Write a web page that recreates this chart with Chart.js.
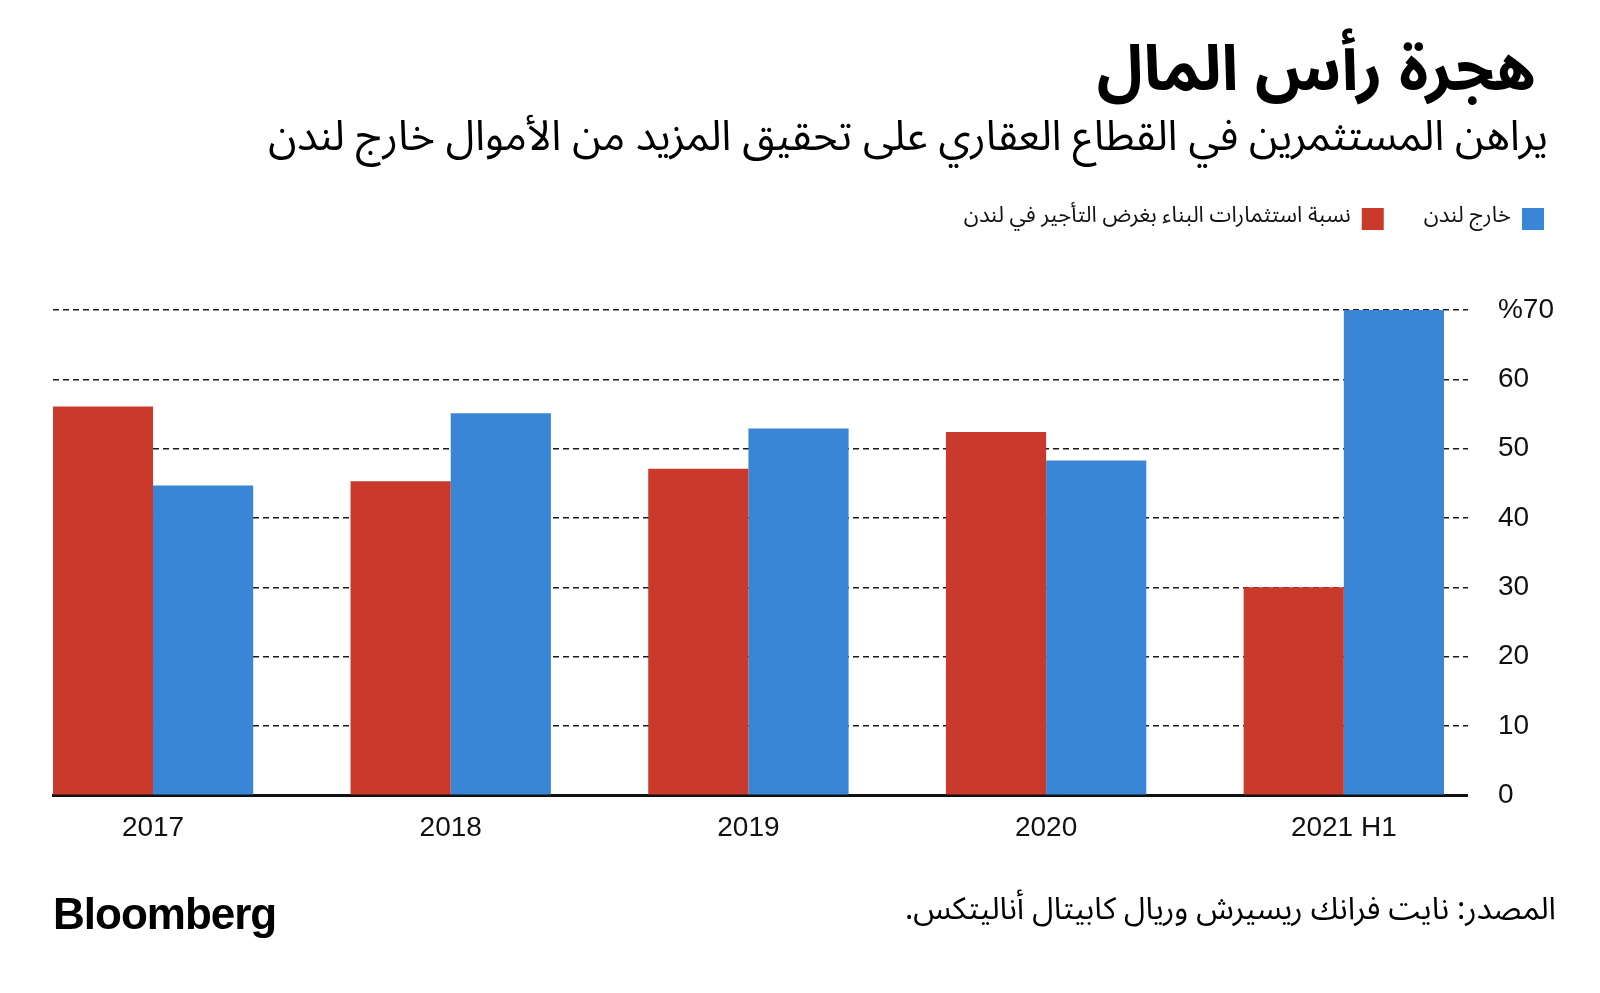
<!DOCTYPE html>
<html lang="ar">
<head>
<meta charset="utf-8">
<title>هجرة رأس المال</title>
<script src="https://cdn.jsdelivr.net/npm/chart.js@4.4.1/dist/chart.umd.min.js"></script>
<style>
  html, body { margin: 0; padding: 0; background: #fff; }
  #wrap { position: relative; width: 1600px; height: 993px; overflow: hidden; }
  #chart { position: absolute; left: 0; top: 0; direction: ltr; }
  .ar { position: absolute; direction: rtl; font-family: "Noto Sans Arabic", "DejaVu Sans", sans-serif; color: #000; white-space: nowrap; }
  #title { right: 64px; top: 38px; font-size: 63px; font-weight: bold; line-height: 1; }
  #subtitle { right: 52px; top: 114px; font-size: 42px; line-height: 1.1; }
  #source { right: 44px; top: 891px; font-size: 31px; line-height: 1.2; }
  #logo { position: absolute; left: 53px; top: 890px; font-family: "Liberation Sans", Arial, sans-serif; font-weight: bold; font-size: 44px; letter-spacing: -1px; line-height: 1.1; }
</style>
</head>
<body>
<div id="wrap">
  <canvas id="chart" width="1600" height="993"></canvas>
  <div id="title" class="ar">هجرة رأس المال</div>
  <div id="subtitle" class="ar">يراهن المستثمرين في القطاع العقاري على تحقيق المزيد من الأموال خارج لندن</div>
  <div id="source" class="ar">المصدر: نايت فرانك ريسيرش وريال كابيتال أناليتكس.</div>
  <div id="logo">Bloomberg</div>
</div>
<script>
// datos
var categorias = ['2017', '2018', '2019', '2020', '2021 H1'];
var enLondres = [56.1, 45.3, 47.1, 52.4, 30.0];
var fueraLondres = [44.7, 55.1, 52.9, 48.3, 70.0];
var ticksY = [0, 10, 20, 30, 40, 50, 60, 70];

var fuenteAr = '"Noto Sans Arabic", "DejaVu Sans", sans-serif';
var fuenteNum = '"Liberation Sans", Arial, sans-serif';

function puntos(serie) {
    return serie.map(function(v, i) { return { x: i, y: v }; });
}

// deja espacio debajo de la leyenda
var espacioLeyenda = {
    id: 'espacioLeyenda',
    beforeInit: function(chart) {
        var fitOriginal = chart.legend.fit;
        chart.legend.fit = function() {
            fitOriginal.bind(chart.legend)();
            this.height += 70;
        };
    }
};

var canvas = document.getElementById('chart').getContext('2d');
window.barras = new Chart(canvas, {
    type: 'bar',
    data: {
        datasets: [{
                label: 'نسبة استثمارات البناء بغرض التأجير في لندن',
                data: puntos(enLondres),
                backgroundColor: '#c9392c'
            }, {
                label: 'خارج لندن',
                data: puntos(fueraLondres),
                backgroundColor: '#3a86d6'
            }]
    },
    plugins: [espacioLeyenda],
    options: {
        responsive: false,
        animation: false,
        layout: {
            padding: { left: 53, right: 16, top: 168, bottom: 140 }
        },
        datasets: {
            bar: { categoryPercentage: 0.673, barPercentage: 1.0 }
        },
        scales: {
            x: {
                type: 'linear',
                offset: false,
                bounds: 'data',
                min: -0.336,
                max: 4.417,
                afterBuildTicks: function(scale) {
                    scale.ticks = categorias.map(function(c, i) { return { value: i }; });
                },
                grid: { display: false, offset: false },
                border: { display: true, color: '#111', width: 3 },
                ticks: {
                    callback: function(v) { return categorias[v]; },
                    color: '#111',
                    font: { family: fuenteNum, size: 28 },
                    padding: 8,
                    maxRotation: 0,
                    autoSkip: false
                }
            },
            y: {
                position: 'right',
                min: 0,
                max: 70,
                afterBuildTicks: function(scale) {
                    scale.ticks = ticksY.map(function(v) { return { value: v }; });
                },
                grid: {
                    drawTicks: false,
                    color: function(ctx) { return ctx.tick && ctx.tick.value === 0 ? 'rgba(0,0,0,0)' : '#1a1a1a'; },
                    lineWidth: 1.6
                },
                border: { display: false, dash: [6, 4] },
                ticks: {
                    callback: function(v) { return v === 70 ? '%70' : String(v); },
                    color: '#111',
                    font: { family: fuenteNum, size: 28 },
                    padding: 30
                }
            }
        },
        plugins: {
            legend: {
                position: 'top',
                align: 'start',
                rtl: true,
                reverse: true,
                labels: {
                    boxWidth: 22,
                    boxHeight: 22,
                    padding: 40,
                    color: '#111',
                    font: { family: fuenteAr, size: 22 }
                }
            },
            tooltip: { enabled: false }
        }
    }
});
</script>
</body>
</html>
